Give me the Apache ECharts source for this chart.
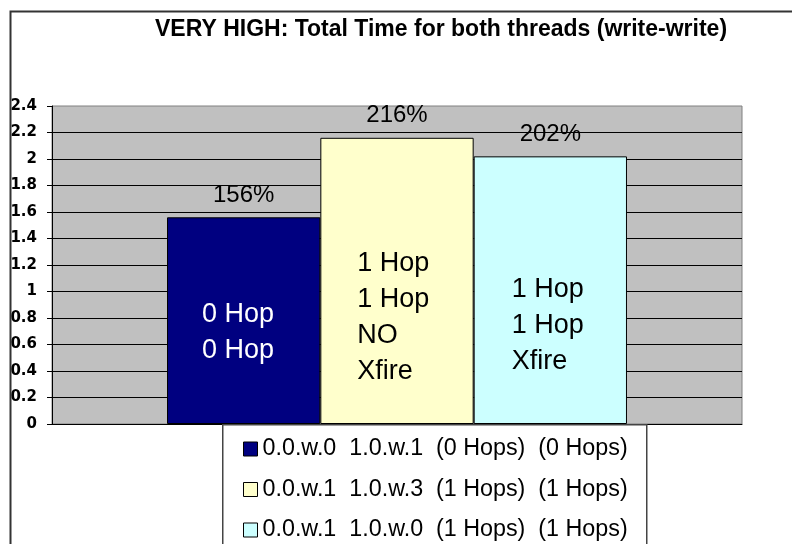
<!DOCTYPE html>
<html>
<head>
<meta charset="utf-8">
<title>VERY HIGH: Total Time for both threads (write-write)</title>
<script src="https://cdn.jsdelivr.net/npm/echarts@6/dist/echarts.min.js"></script>
<style>
  html, body { margin: 0; padding: 0; background: #fff; }
  #chart { width: 792px; height: 544px; }
</style>
</head>
<body>
<div id="chart"></div>
<script>
// chart data
var categories = ['write-write']
var seriesNames = [
  '0.0.w.0  1.0.w.1  (0 Hops)  (0 Hops)',
  '0.0.w.1  1.0.w.3  (1 Hops)  (1 Hops)',
  '0.0.w.1  1.0.w.0  (1 Hops)  (1 Hops)'
]
var values = [1.56, 2.16, 2.02]
var percentLabels = ['156%', '216%', '202%']
var barTexts = ['0 Hop\n0 Hop', '1 Hop\n1 Hop\nNO\nXfire', '1 Hop\n1 Hop\nXfire']
var yMin = 0
var yMax = 2.4
var yStep = 0.2

// styles
var FONT = '"Liberation Sans", Arial, sans-serif'
var barColors = ['#000080', '#FFFFCC', '#CCFFFF']
var textColors = ['#fff', '#000', '#000']
var textPos = [[35, 115], [37, 180], [38, 169]] // relative to bar top-left

var chart = echarts.init(document.getElementById('chart'))

var series = []
// visible bars, percentage on top
seriesNames.forEach(function(name, i) {
  series.push({
    name: name,
    type: 'bar',
    xAxisIndex: 0,
    barWidth: '22.22%',
    barGap: 0,
    data: [values[i]],
    itemStyle: { color: barColors[i], borderColor: '#000', borderWidth: 1 },
    label: {
      show: true,
      position: 'top',
      distance: 10,
      formatter: percentLabels[i],
      color: '#000',
      fontFamily: FONT,
      fontSize: 24
    },
    emphasis: { disabled: true },
    animation: false
  })
})
// transparent copies on a hidden axis, only for the text inside the bars
seriesNames.forEach(function(name, i) {
  series.push({
    name: 'text' + i,
    type: 'bar',
    xAxisIndex: 1,
    barWidth: '22.22%',
    barGap: 0,
    data: [values[i]],
    itemStyle: { color: 'rgba(0,0,0,0)' },
    label: {
      show: true,
      position: textPos[i],
      align: 'left',
      verticalAlign: 'middle',
      formatter: barTexts[i],
      color: textColors[i],
      fontFamily: FONT,
      fontSize: 27,
      lineHeight: 36
    },
    emphasis: { disabled: true },
    silent: true,
    animation: false
  })
})

chart.setOption({
  animation: false,
  title: {
    text: 'VERY HIGH: Total Time for both threads (write-write)',
    left: 155,
    top: 17,
    padding: 0,
    textStyle: { fontFamily: FONT, fontSize: 23, fontWeight: 'bold', color: '#000', lineHeight: 26 }
  },
  grid: {
    left: 52,
    top: 106,
    right: 50,
    bottom: 120,
    show: true,
    backgroundColor: '#C0C0C0',
    borderColor: '#808080',
    borderWidth: 1
  },
  legend: {
    data: seriesNames,
    orient: 'vertical',
    left: 243,
    top: 436,
    padding: 0,
    itemGap: 14.5,
    itemWidth: 14,
    itemHeight: 14,
    icon: 'rect',
    itemStyle: { borderColor: '#000', borderWidth: 1 },
    textStyle: { fontFamily: FONT, fontSize: 23.3, color: '#000', lineHeight: 26 },
    selectedMode: false,
    z: 10
  },
  xAxis: [{
    type: 'category',
    data: categories,
    axisLine: { show: true, lineStyle: { color: '#000', width: 1 } },
    axisTick: { show: false },
    axisLabel: { show: false }
  }, {
    type: 'category',
    data: categories,
    show: false
  }],
  yAxis: {
    type: 'value',
    min: yMin,
    max: yMax,
    interval: yStep,
    axisLine: { show: true, lineStyle: { color: '#000', width: 1 } },
    axisTick: { show: true, length: 5, lineStyle: { color: '#000' } },
    axisLabel: {
      margin: 15,
      color: '#000',
      fontFamily: '"DejaVu Sans", sans-serif',
      fontWeight: 'bold',
      fontSize: 15
    },
    splitLine: { show: true, showMaxLine: false, lineStyle: { color: '#000', width: 1 } }
  },
  graphic: [{
    // legend box
    type: 'rect',
    left: 222,
    top: 424,
    shape: { width: 424, height: 200 },
    style: { fill: '#fff', stroke: '#444', lineWidth: 1.5 },
    silent: true,
    z: 5
  }, {
    // outer chart border
    type: 'rect',
    left: 8,
    top: 9,
    shape: { width: 900, height: 700 },
    style: { fill: 'none', stroke: '#333', lineWidth: 2 },
    silent: true,
    z: 100
  }],
  series: series
})
</script>
</body>
</html>
